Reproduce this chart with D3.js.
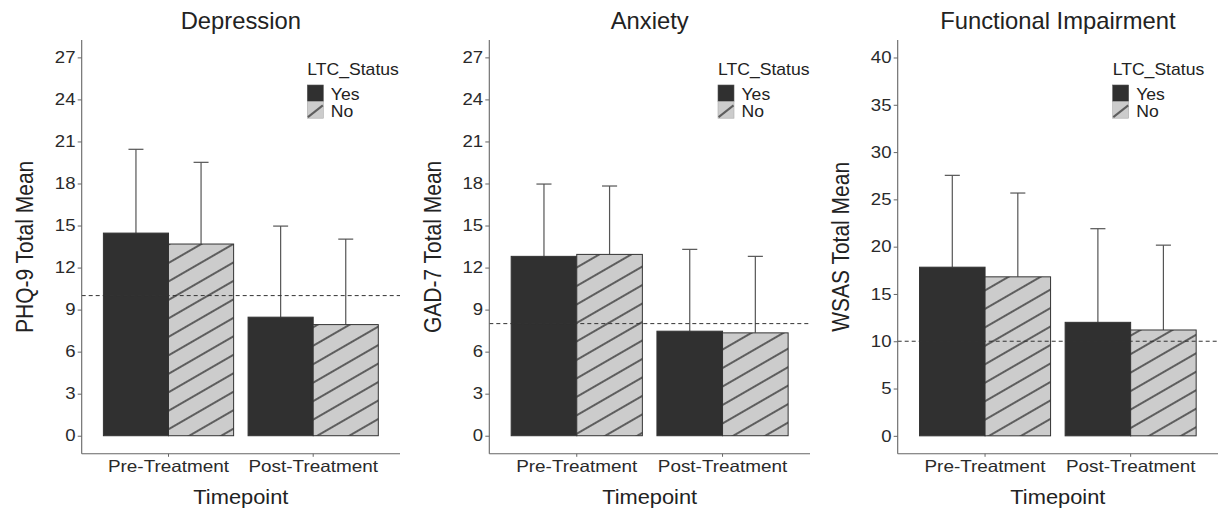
<!DOCTYPE html>
<html>
<head>
<meta charset="utf-8">
<script src="https://cdn.jsdelivr.net/npm/d3@7"></script>
<style>
  html, body { margin: 0; padding: 0; background: #fff; }
  svg { display: block; }
  text { font-family: "Liberation Sans", Arial, Helvetica, sans-serif; }
</style>
</head>
<body>
<svg id="chart" width="1224" height="512"></svg>
<script>
// ---------------- data ----------------
const timepoints = ["Pre-Treatment", "Post-Treatment"];
const ltcGroups = ["Yes", "No"];

const panelTitles = ["Depression", "Anxiety", "Functional Impairment"];
const yLabels = ["PHQ-9 Total Mean", "GAD-7 Total Mean", "WSAS Total Mean"];

// means and SDs (Yes / No) per timepoint
const phqMeanYes = [14.46, 8.46];
const phqMeanNo  = [13.68, 7.93];
const phqSdYes   = [5.98, 6.50];
const phqSdNo    = [5.83, 6.10];

const gadMeanYes = [12.80, 7.46];
const gadMeanNo  = [12.94, 7.34];
const gadSdYes   = [5.16, 5.84];
const gadSdNo    = [4.88, 5.46];

const wsasMeanYes = [17.83, 12.00];
const wsasMeanNo  = [16.81, 11.19];
const wsasSdYes   = [9.71, 9.90];
const wsasSdNo    = [8.86, 8.97];

const cutoffs = [10, 8, 10];
const phqTicks  = [0, 3, 6, 9, 12, 15, 18, 21, 24, 27];
const gadTicks  = [0, 3, 6, 9, 12, 15, 18, 21, 24, 27];
const wsasTicks = [0, 5, 10, 15, 20, 25, 30, 35, 40];

// ---------------- layout ----------------
const svg = d3.select("#chart");
const yTop = 40, yBottom = 453.8;
const SX = 1.14;          // horizontal text stretch of the tick labels
const fontFam = '"Liberation Sans", Arial, Helvetica, sans-serif';

const defs = svg.append("defs");
const pat = defs.append("pattern")
  .attr("id", "hatch")
  .attr("patternUnits", "userSpaceOnUse")
  .attr("width", 16).attr("height", 16)
  .attr("patternTransform", "rotate(-30)");
pat.append("rect").attr("width", 16).attr("height", 16).attr("fill", "#cccccc");
pat.append("line").attr("x1", 0).attr("x2", 16).attr("y1", 8).attr("y2", 8)
  .attr("stroke", "#5e5e5e").attr("stroke-width", 2);

function buildRows(mYes, mNo, sYes, sNo) {
  const rows = [];
  timepoints.forEach((t, i) => {
    rows.push({ t, g: "Yes", mean: mYes[i], sd: sYes[i] });
    rows.push({ t, g: "No", mean: mNo[i], sd: sNo[i] });
  });
  return rows;
}

const panels = [
  { x0: 81.7, x1: 400, dom: [-1.29, 28.24], ticks: phqTicks,
    rows: buildRows(phqMeanYes, phqMeanNo, phqSdYes, phqSdNo), legX: 307.3 },
  { x0: 489.3, x1: 810, dom: [-1.29, 28.24], ticks: gadTicks,
    rows: buildRows(gadMeanYes, gadMeanNo, gadSdYes, gadSdNo), legX: 718 },
  { x0: 897.7, x1: 1218, dom: [-1.9, 41.85], ticks: wsasTicks,
    rows: buildRows(wsasMeanYes, wsasMeanNo, wsasSdYes, wsasSdNo), legX: 1112.7 }
];

function stretchedText(g, x, y, str, size, sx, anchor, rot) {
  return g.append("text")
    .attr("transform", `translate(${x},${y}) scale(${sx},1)` + (rot ? ` rotate(${rot})` : ""))
    .attr("text-anchor", anchor)
    .attr("font-size", size)
    .attr("fill", "#222")
    .text(str);
}

panels.forEach((p, pi) => {
  const g = svg.append("g");
  const x = d3.scaleBand().domain(timepoints).range([p.x0, p.x1])
    .paddingInner(0.1).paddingOuter(0.15);
  const xs = d3.scaleBand().domain(ltcGroups).range([0, x.bandwidth()]);
  const y = d3.scaleLinear().domain(p.dom).range([yBottom, yTop]);

  // error bars (drawn first so bars cover the lower part)
  const capW = xs.bandwidth() * 0.23;
  const eb = g.append("g").attr("stroke", "#555").attr("stroke-width", 1.2).attr("fill", "none");
  p.rows.forEach(r => {
    const cx = x(r.t) + xs(r.g) + xs.bandwidth() / 2;
    eb.append("line").attr("x1", cx).attr("x2", cx)
      .attr("y1", y(r.mean)).attr("y2", y(r.mean + r.sd));
    eb.append("line").attr("x1", cx - capW / 2).attr("x2", cx + capW / 2)
      .attr("y1", y(r.mean + r.sd)).attr("y2", y(r.mean + r.sd));
  });

  // bars
  g.append("g").selectAll("rect").data(p.rows).join("rect")
    .attr("x", d => x(d.t) + xs(d.g))
    .attr("width", xs.bandwidth())
    .attr("y", d => y(d.mean))
    .attr("height", d => y(0) - y(d.mean))
    .attr("fill", d => d.g === "Yes" ? "#303030" : "url(#hatch)")
    .attr("stroke", "#333")
    .attr("stroke-width", 1);

  // cutoff line
  g.append("line")
    .attr("x1", p.x0).attr("x2", p.x1)
    .attr("y1", y(cutoffs[pi])).attr("y2", y(cutoffs[pi]))
    .attr("stroke", "#333").attr("stroke-width", 1)
    .attr("stroke-dasharray", "4,3");

  // y axis
  const ya = g.append("g").attr("transform", `translate(${p.x0},0)`)
    .call(d3.axisLeft(y).tickValues(p.ticks).tickSize(4).tickPadding(2).tickSizeOuter(0));
  ya.select(".domain").attr("stroke", "#666").attr("stroke-width", 1.1)
    .attr("d", `M0,${yTop}V${yBottom}`);
  ya.selectAll(".tick line").attr("stroke", "#666");
  ya.selectAll(".tick text")
    .attr("font-family", fontFam).attr("font-size", 16.3).attr("fill", "#2a2a2a")
    .attr("x", -6.2 / SX).attr("transform", `scale(${SX},1)`);

  // x axis
  const xa = g.append("g").attr("transform", `translate(0,${yBottom})`)
    .call(d3.axisBottom(x).tickSize(3).tickPadding(3).tickSizeOuter(0));
  xa.select(".domain").attr("stroke", "#666").attr("stroke-width", 1.1)
    .attr("d", `M${p.x0},0H${p.x1}`);
  xa.selectAll(".tick line").attr("stroke", "#666");
  xa.selectAll(".tick text")
    .attr("font-family", fontFam).attr("font-size", 16.3).attr("fill", "#2a2a2a")
    .attr("y", 0).attr("dy", null)
    .attr("transform", `translate(0,18.5) scale(${SX + 0.02},1)`);

  const cx = (p.x0 + p.x1) / 2;
  // title
  stretchedText(g, cx, 29.3, panelTitles[pi], 23, 1.035, "middle");
  // x title
  stretchedText(g, cx, 504.3, "Timepoint", 21, 1.04, "middle");
  // y title
  stretchedText(g, p.x0 - 48.5, (yTop + yBottom) / 2, yLabels[pi], 21, 1.1, "middle", -90);

  // legend
  const lg = g.append("g");
  stretchedText(lg, p.legX, 74.5, "LTC_Status", 16.6, 1.06, "start");
  const kw = 16, kh = 16.6, ky = 85;
  lg.append("rect").attr("x", p.legX).attr("y", ky).attr("width", kw).attr("height", kh)
    .attr("fill", "#303030").attr("stroke", "#555").attr("stroke-width", 0.6);
  lg.append("rect").attr("x", p.legX).attr("y", ky + kh).attr("width", kw).attr("height", kh)
    .attr("fill", "#cccccc").attr("stroke", "#aaa").attr("stroke-width", 0.6);
  lg.append("line")
    .attr("x1", p.legX + 0.6).attr("y1", ky + kh + 15.5)
    .attr("x2", p.legX + kw - 0.5).attr("y2", ky + kh + 3.8)
    .attr("stroke", "#5e5e5e").attr("stroke-width", 2);
  ltcGroups.forEach((lab, i) => {
    stretchedText(lg, p.legX + kw + 7.5, 100.3 + i * 16.2, lab, 16.6, 1.06, "start");
  });
});
</script>
</body>
</html>
